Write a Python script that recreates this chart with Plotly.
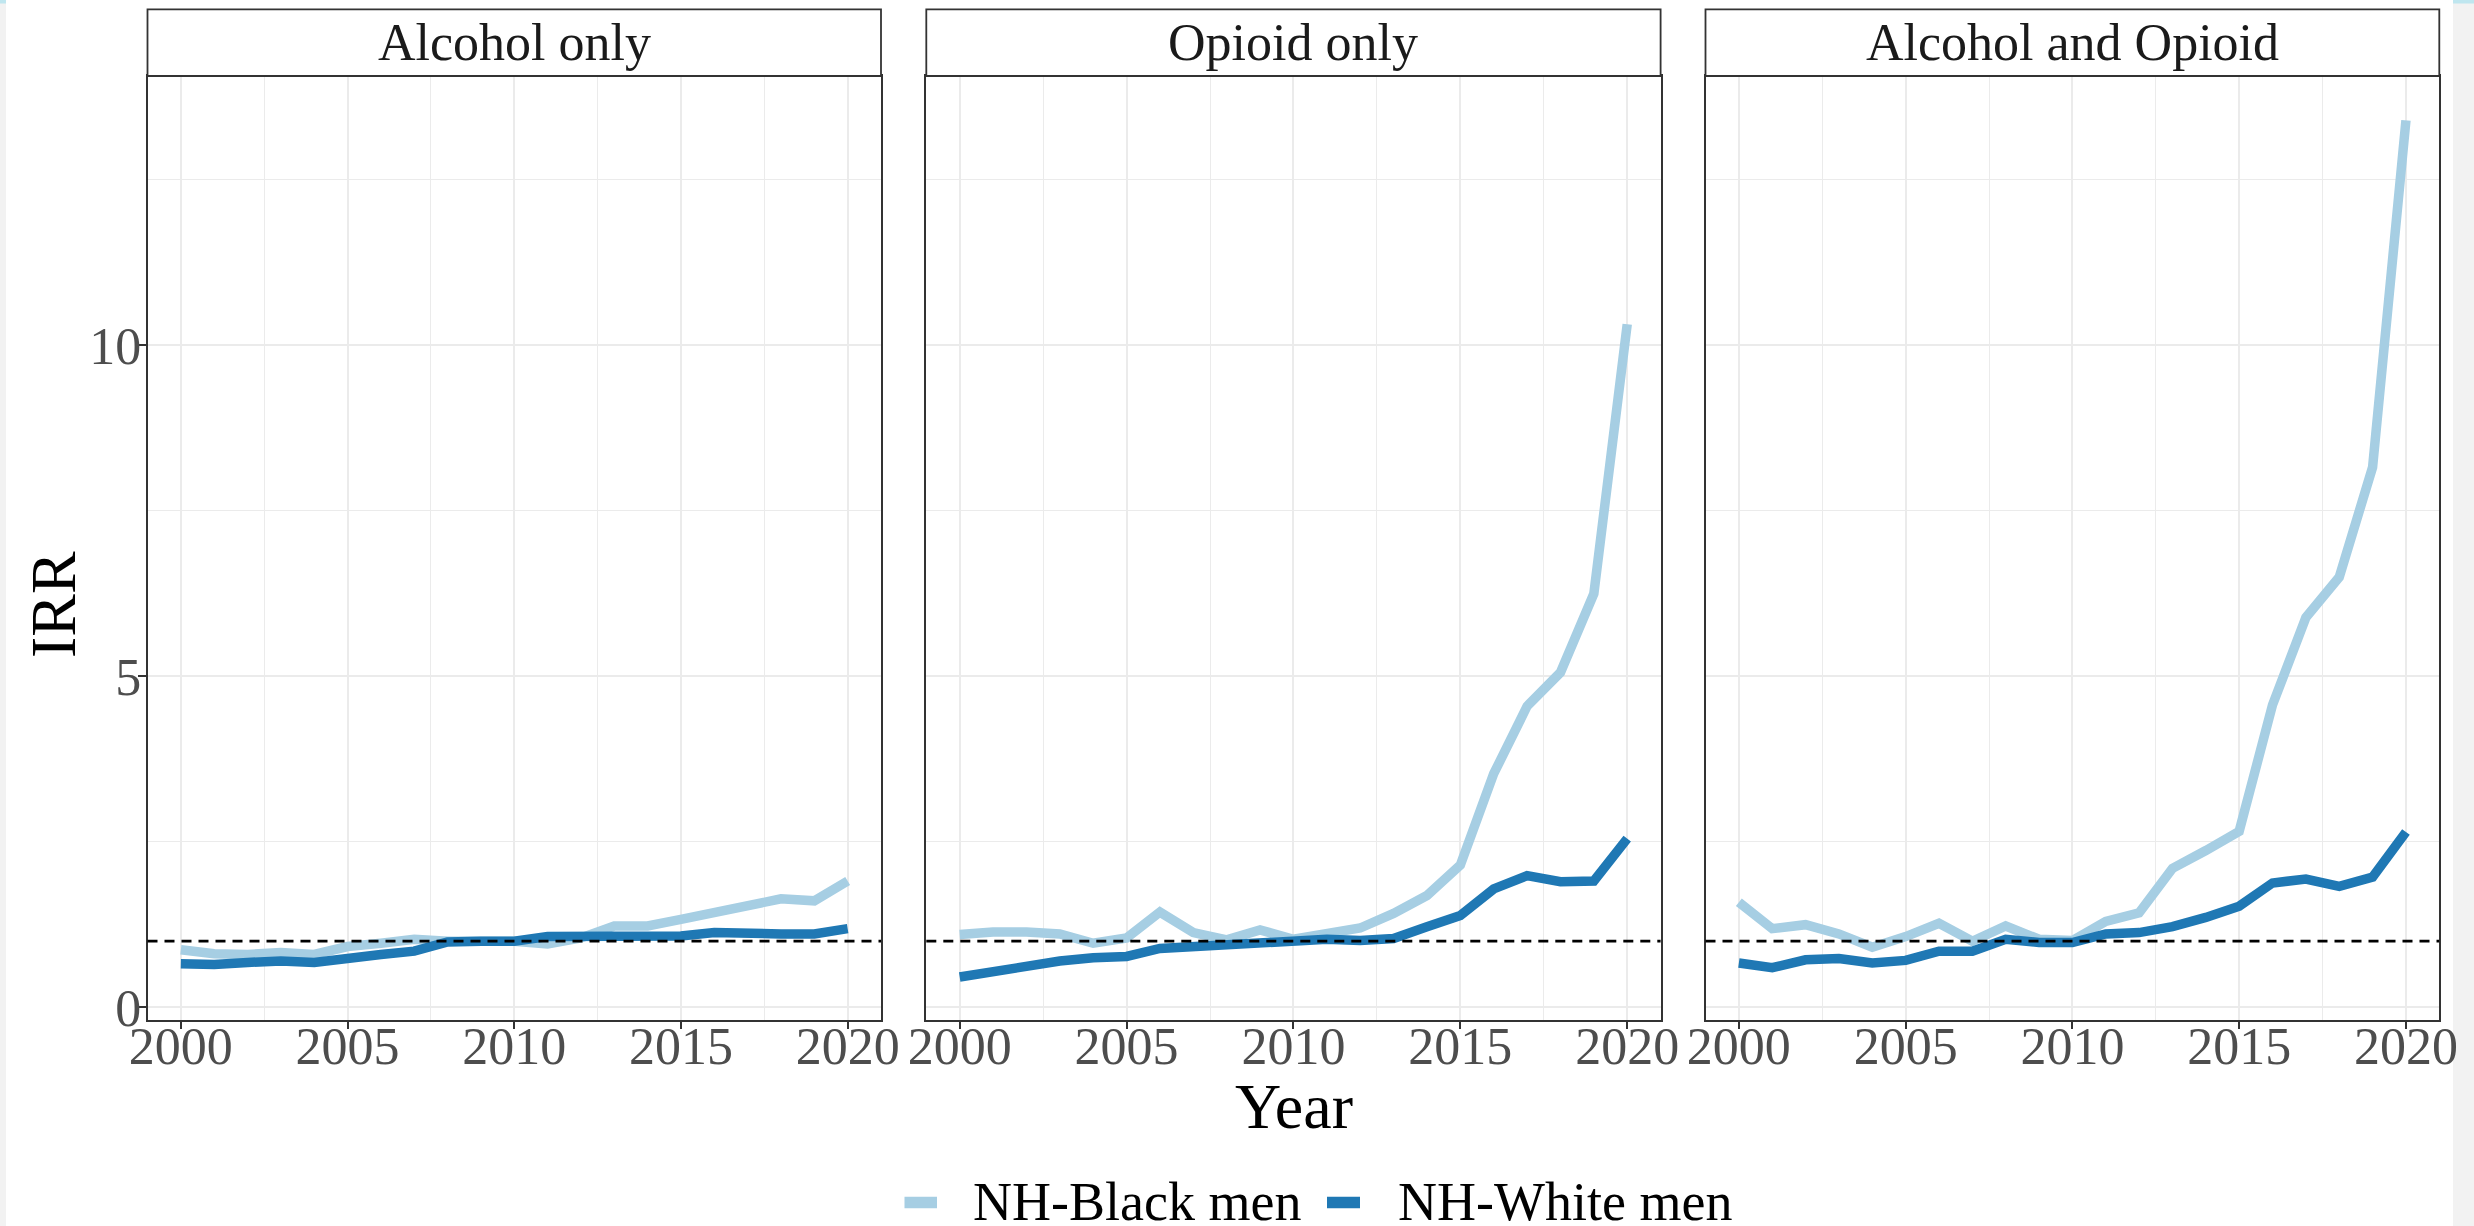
import plotly.graph_objects as go

# ---------------- data ----------------
years = list(range(2000, 2021))
panels = ["Alcohol only", "Opioid only", "Alcohol and Opioid"]
groups = ["NH-Black men", "NH-White men"]
colors = ["#a6cee3", "#1f78b4"]

alcohol_black = [0.87, 0.81, 0.80, 0.83, 0.80, 0.92, 0.97, 1.03, 1.00, 1.00, 1.00,
                 0.96, 1.05, 1.23, 1.23, 1.33, 1.43, 1.53, 1.64, 1.61, 1.91]
alcohol_white = [0.66, 0.65, 0.68, 0.70, 0.68, 0.75, 0.80, 0.85, 0.99, 1.00, 1.00,
                 1.07, 1.07, 1.05, 1.08, 1.08, 1.13, 1.11, 1.11, 1.11, 1.19]
opioid_black = [1.10, 1.14, 1.14, 1.11, 0.97, 1.05, 1.44, 1.13, 1.02, 1.17, 1.03,
                1.10, 1.20, 1.42, 1.69, 2.15, 3.53, 4.55, 5.06, 6.25, 10.32]
opioid_white = [0.46, 0.54, 0.65, 0.70, 0.75, 0.77, 0.89, 0.92, 0.94, 0.95, 0.99,
                1.03, 1.01, 1.04, 1.22, 1.39, 1.79, 1.99, 1.90, 1.91, 2.55]
both_black = [1.59, 1.19, 1.25, 1.11, 0.91, 1.07, 1.27, 1.00, 1.23, 1.03, 1.01,
              1.30, 1.43, 2.10, 2.37, 2.66, 4.57, 5.89, 6.50, 8.16, 13.40]
both_white = [0.67, 0.60, 0.72, 0.74, 0.67, 0.71, 0.85, 0.85, 1.03, 0.98, 0.98,
              1.11, 1.13, 1.22, 1.36, 1.53, 1.88, 1.94, 1.83, 1.97, 2.65]

x_ticks = [2000, 2005, 2010, 2015, 2020]
y_ticks = [0, 5, 10]
reference_irr = 1

series = [
    (alcohol_black, alcohol_white),
    (opioid_black, opioid_white),
    (both_black, both_white),
]

# ---------------- layout geometry ----------------
W, H = 2474, 1226
FONT = "Liberation Serif, Times New Roman, Times, serif"
x_dom_px = [(147.5, 881.0), (926.3, 1660.6), (1705.5, 2439.3)]
y_bot_px, y_top_px, strip_top_px = 1020.0, 76.0, 9.3


def px(xp):
    return xp / W


def py(yp):
    return 1 - yp / H


fig = go.Figure()

for i, (blk, wht) in enumerate(series):
    ax = "" if i == 0 else str(i + 1)
    for g, vals in enumerate((blk, wht)):
        fig.add_trace(go.Scatter(
            x=years, y=vals, mode="lines", name=groups[g],
            legendgroup=groups[g], showlegend=False,
            line=dict(color=colors[g], width=9.5),
            xaxis="x" + ax, yaxis="y" + ax,
        ))

layout = dict(
    width=W, height=H,
    autosize=False,
    margin=dict(l=0, r=0, t=0, b=0, pad=0, autoexpand=False),
    paper_bgcolor="#f2f2f2",
    plot_bgcolor="white",
    font=dict(family=FONT, color="#4d4d4d"),
    showlegend=False,
)

shapes = []
annotations = []

# page background (white area with light grey edges)
shapes.append(dict(type="rect", xref="paper", yref="paper",
                   x0=px(6), x1=px(2453), y0=0, y1=1,
                   fillcolor="white", line=dict(width=0), layer="below"))
shapes.append(dict(type="rect", xref="paper", yref="paper",
                   x0=px(2453), x1=1, y0=py(3.5), y1=1,
                   fillcolor="#bfe6ef", line=dict(width=0), layer="below"))
shapes.append(dict(type="rect", xref="paper", yref="paper",
                   x0=0, x1=px(6), y0=py(3.5), y1=1,
                   fillcolor="#bfe6ef", line=dict(width=0), layer="below"))

for i, (x0p, x1p) in enumerate(x_dom_px):
    ax = "" if i == 0 else str(i + 1)
    xa = dict(
        domain=[px(x0p), px(x1p)], anchor="y" + ax,
        range=[1999, 2021], tickvals=x_ticks, ticktext=[str(v) for v in x_ticks],
        showgrid=True, gridcolor="#ebebeb", gridwidth=2,
        minor=dict(dtick=2.5, tick0=2000, showgrid=True, gridcolor="#ebebeb",
                   gridwidth=1, ticks=""),
        zeroline=False, automargin=False,
        showline=True, mirror=True, linecolor="#333333", linewidth=1.5,
        ticks="outside", ticklen=7, tickwidth=1.5, tickcolor="#333333",
        ticklabelstandoff=-27,
        tickfont=dict(family=FONT, size=52, color="#4d4d4d"),
        fixedrange=True,
    )
    ya = dict(
        domain=[py(y_bot_px), py(y_top_px)], anchor="x" + ax,
        range=[-0.19, 14.07], tickvals=y_ticks, ticktext=[str(v) for v in y_ticks],
        showgrid=True, gridcolor="#ebebeb", gridwidth=2,
        minor=dict(dtick=2.5, tick0=0, showgrid=True, gridcolor="#ebebeb",
                   gridwidth=1, ticks=""),
        zeroline=False, automargin=False,
        showline=True, mirror=True, linecolor="#333333", linewidth=1.5,
        showticklabels=(i == 0),
        ticks="outside" if i == 0 else "", ticklen=8, tickwidth=1.5,
        tickcolor="#333333",
        ticklabelstandoff=-14,
        tickfont=dict(family=FONT, size=52, color="#4d4d4d"),
        fixedrange=True,
    )
    layout["xaxis" + ax] = xa
    layout["yaxis" + ax] = ya

    # strip
    shapes.append(dict(type="rect", xref="paper", yref="paper",
                       x0=px(x0p), x1=px(x1p), y0=py(y_top_px), y1=py(strip_top_px),
                       fillcolor="white", line=dict(color="#333333", width=1.8)))
    annotations.append(dict(text=panels[i], xref="paper", yref="paper",
                            x=px((x0p + x1p) / 2), y=py(42.8),
                            xanchor="center", yanchor="middle", showarrow=False,
                            font=dict(family=FONT, size=52, color="#1a1a1a")))
    # reference line at IRR = 1
    shapes.append(dict(type="line", xref="x" + ax + " domain", yref="y" + ax,
                       x0=0, x1=1, y0=reference_irr, y1=reference_irr,
                       line=dict(color="black", width=2.8, dash="10px,7px"),
                       layer="above"))

# axis titles
annotations.append(dict(text="Year", xref="paper", yref="paper",
                        x=px(1293.5), y=py(1106.6), xanchor="center", yanchor="middle",
                        showarrow=False, font=dict(family=FONT, size=64, color="black")))
annotations.append(dict(text="IRR", xref="paper", yref="paper",
                        x=px(54), y=py(605), xanchor="center", yanchor="middle",
                        textangle=-90, showarrow=False,
                        font=dict(family=FONT, size=64, color="black")))

# legend (manual, bottom centre)
legend_items = [(904.5, 937.0, 973.0), (1327.0, 1360.0, 1398.0)]
for g, (k0, k1, tx) in enumerate(legend_items):
    shapes.append(dict(type="line", xref="paper", yref="paper",
                       x0=px(k0), x1=px(k1), y0=py(1202.5), y1=py(1202.5),
                       line=dict(color=colors[g], width=11.5)))
    annotations.append(dict(text=groups[g], xref="paper", yref="paper",
                            x=px(tx - 2), y=py(1201.5), xanchor="left", yanchor="middle",
                            height=46, valign="middle",
                            showarrow=False,
                            font=dict(family=FONT, size=54, color="black")))

layout["shapes"] = shapes
layout["annotations"] = annotations
fig.update_layout(**layout)

fig.write_html(
    "out.html",
    config={"displayModeBar": False, "staticPlot": False},
    post_script="document.body.style.margin='0';document.body.style.padding='0';"
                "document.body.style.overflow='hidden';"
)
